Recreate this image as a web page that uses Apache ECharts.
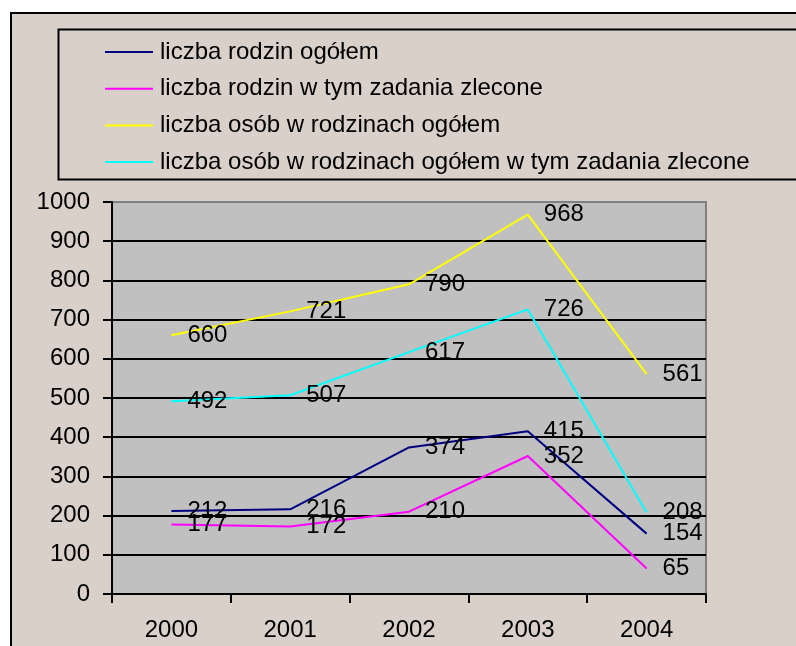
<!DOCTYPE html>
<html>
<head>
<meta charset="utf-8">
<script src="https://cdn.jsdelivr.net/npm/echarts@6/dist/echarts.min.js"></script>
<style>
html,body{margin:0;padding:0;background:#ffffff;}
#c{width:796px;height:646px;}
</style>
</head>
<body>
<div id="c"></div>
<script>
const categories = ['2000', '2001', '2002', '2003', '2004'];
const seriesNames = [
  'liczba rodzin ogółem',
  'liczba rodzin w tym zadania zlecone',
  'liczba osób w rodzinach ogółem',
  'liczba osób w rodzinach ogółem w tym zadania zlecone'
];
const rodzinOgolem = [212, 216, 374, 415, 154];
const rodzinZlecone = [177, 172, 210, 352, 65];
const osobOgolem = [660, 721, 790, 968, 561];
const osobZlecone = [492, 507, 617, 726, 208];
const seriesColors = ['#000080', '#ff00ff', '#ffff00', '#00ffff'];
const yTicks = [0, 100, 200, 300, 400, 500, 600, 700, 800, 900, 1000];

const FONT = 'Liberation Sans, Arial, sans-serif';
const chart = echarts.init(document.getElementById('c'), null, {renderer: 'canvas'});

const dataSets = [rodzinOgolem, rodzinZlecone, osobOgolem, osobZlecone];
const splitColors = yTicks.map((v, i) => i === yTicks.length - 1 ? '#808080' : '#000000');

chart.setOption({
  backgroundColor: '#ffffff',
  animation: false,
  textStyle: {fontFamily: FONT},
  graphic: [
    {type: 'rect', z: -10, shape: {x: 11, y: 13, width: 820, height: 700},
     style: {fill: '#d8d0c9', stroke: '#000000', lineWidth: 2}},
    {type: 'rect', z: -9, shape: {x: 58.5, y: 29.5, width: 760, height: 150},
     style: {fill: 'none', stroke: '#000000', lineWidth: 2}}
  ],
  legend: {
    orient: 'vertical',
    left: 105,
    top: 40,
    itemWidth: 48,
    itemHeight: 2,
    itemGap: 12.7,
    icon: 'rect',
    padding: 0,
    textStyle: {fontFamily: FONT, fontSize: 24, color: '#000000', lineHeight: 24, padding: [0, 0, 0, 2]},
    data: seriesNames
  },
  grid: {
    left: 112, right: 90, top: 202, bottom: 52,
    show: true, backgroundColor: '#c0c0c0', borderColor: '#808080', borderWidth: 2
  },
  xAxis: {
    type: 'category',
    data: categories,
    boundaryGap: true,
    axisLine: {lineStyle: {color: '#000000', width: 2}},
    axisTick: {show: true, length: 9, lineStyle: {color: '#000000', width: 2}},
    axisLabel: {fontFamily: FONT, fontSize: 24, color: '#000000', margin: 24},
    splitLine: {show: false}
  },
  yAxis: {
    type: 'value',
    min: 0, max: 1000, interval: 100,
    axisLine: {show: true, lineStyle: {color: '#000000', width: 2}},
    axisTick: {show: true, length: 9, lineStyle: {color: '#000000', width: 2}},
    axisLabel: {fontFamily: FONT, fontSize: 24, color: '#000000', margin: 22,
      formatter: v => String(v)},
    splitLine: {show: true, lineStyle: {color: splitColors, width: 2}}
  },
  series: dataSets.map((d, i) => ({
    name: seriesNames[i],
    type: 'line',
    data: d,
    symbol: 'circle',
    symbolSize: 0,
    showSymbol: true,
    lineStyle: {color: seriesColors[i], width: 2},
    itemStyle: {color: seriesColors[i]},
    label: {show: true, position: 'right', distance: 16, fontFamily: FONT, fontSize: 24, color: '#000000'},
    labelLayout: {hideOverlap: false}
  }))
});
</script>
</body>
</html>
